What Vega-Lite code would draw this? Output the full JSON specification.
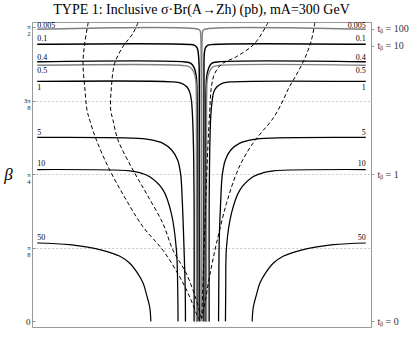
{
  "$schema": "https://vega.github.io/schema/vega-lite/v6.json",
  "width": 339,
  "height": 305,
  "autosize": "none",
  "padding": {"left": 32, "top": 22, "right": 44, "bottom": 32},
  "background": "white",
  "config": {"view": {"stroke": "#999", "strokeWidth": 1}, "font": "Liberation Serif"},
  "title": {"text": "TYPE 1: Inclusive σ·Br(A→Zh) (pb), mA=300 GeV", "font": "Liberation Serif", "fontSize": 14, "fontWeight": "normal", "color": "black", "anchor": "middle", "offset": 5},
  "datasets": {
    "contours": [
      {"level": "0.005", "side": "L", "i": 0, "x": -0.6, "beta": 1.558},
      {"level": "0.005", "side": "L", "i": 1, "x": -0.01, "beta": 1.558},
      {"level": "0.005", "side": "L", "i": 2, "x": -0.0046, "beta": 1.549},
      {"level": "0.005", "side": "L", "i": 3, "x": -0.0027, "beta": 1.528},
      {"level": "0.005", "side": "L", "i": 4, "x": -0.0025, "beta": 0},
      {"level": "0.005", "side": "R", "i": 0, "x": 0.6, "beta": 1.558},
      {"level": "0.005", "side": "R", "i": 1, "x": 0.01, "beta": 1.558},
      {"level": "0.005", "side": "R", "i": 2, "x": 0.0046, "beta": 1.549},
      {"level": "0.005", "side": "R", "i": 3, "x": 0.0027, "beta": 1.528},
      {"level": "0.005", "side": "R", "i": 4, "x": 0.0025, "beta": 0},

      {"level": "0.1", "side": "L", "i": 0, "x": -0.6, "beta": 1.478},
      {"level": "0.1", "side": "L", "i": 1, "x": -0.043, "beta": 1.477},
      {"level": "0.1", "side": "L", "i": 2, "x": -0.025, "beta": 1.472},
      {"level": "0.1", "side": "L", "i": 3, "x": -0.0155, "beta": 1.458},
      {"level": "0.1", "side": "L", "i": 4, "x": -0.0119, "beta": 1.432},
      {"level": "0.1", "side": "L", "i": 5, "x": -0.0088, "beta": 1.368},
      {"level": "0.1", "side": "L", "i": 6, "x": -0.0085, "beta": 0.9},
      {"level": "0.1", "side": "L", "i": 7, "x": -0.0085, "beta": 0},
      {"level": "0.1", "side": "R", "i": 0, "x": 0.6, "beta": 1.478},
      {"level": "0.1", "side": "R", "i": 1, "x": 0.04, "beta": 1.477},
      {"level": "0.1", "side": "R", "i": 2, "x": 0.022, "beta": 1.472},
      {"level": "0.1", "side": "R", "i": 3, "x": 0.014, "beta": 1.458},
      {"level": "0.1", "side": "R", "i": 4, "x": 0.0105, "beta": 1.432},
      {"level": "0.1", "side": "R", "i": 5, "x": 0.009, "beta": 1.368},
      {"level": "0.1", "side": "R", "i": 6, "x": 0.0088, "beta": 0.9},
      {"level": "0.1", "side": "R", "i": 7, "x": 0.0088, "beta": 0},

      {"level": "0.4", "side": "L", "i": 0, "x": -0.6, "beta": 1.385},
      {"level": "0.4", "side": "L", "i": 1, "x": -0.061, "beta": 1.384},
      {"level": "0.4", "side": "L", "i": 2, "x": -0.039, "beta": 1.376},
      {"level": "0.4", "side": "L", "i": 3, "x": -0.0265, "beta": 1.352},
      {"level": "0.4", "side": "L", "i": 4, "x": -0.0192, "beta": 1.309},
      {"level": "0.4", "side": "L", "i": 5, "x": -0.0165, "beta": 1.234},
      {"level": "0.4", "side": "L", "i": 6, "x": -0.016, "beta": 0.9},
      {"level": "0.4", "side": "L", "i": 7, "x": -0.0165, "beta": 0},
      {"level": "0.4", "side": "R", "i": 0, "x": 0.6, "beta": 1.385},
      {"level": "0.4", "side": "R", "i": 1, "x": 0.059, "beta": 1.384},
      {"level": "0.4", "side": "R", "i": 2, "x": 0.037, "beta": 1.376},
      {"level": "0.4", "side": "R", "i": 3, "x": 0.0265, "beta": 1.352},
      {"level": "0.4", "side": "R", "i": 4, "x": 0.0192, "beta": 1.309},
      {"level": "0.4", "side": "R", "i": 5, "x": 0.0165, "beta": 1.234},
      {"level": "0.4", "side": "R", "i": 6, "x": 0.016, "beta": 0.9},
      {"level": "0.4", "side": "R", "i": 7, "x": 0.0165, "beta": 0},

      {"level": "0.5", "side": "L", "i": 0, "x": -0.6, "beta": 1.366},
      {"level": "0.5", "side": "L", "i": 1, "x": -0.0685, "beta": 1.365},
      {"level": "0.5", "side": "L", "i": 2, "x": -0.043, "beta": 1.357},
      {"level": "0.5", "side": "L", "i": 3, "x": -0.0283, "beta": 1.33},
      {"level": "0.5", "side": "L", "i": 4, "x": -0.021, "beta": 1.287},
      {"level": "0.5", "side": "L", "i": 5, "x": -0.019, "beta": 1.207},
      {"level": "0.5", "side": "L", "i": 6, "x": -0.0185, "beta": 0.9},
      {"level": "0.5", "side": "L", "i": 7, "x": -0.0185, "beta": 0},
      {"level": "0.5", "side": "R", "i": 0, "x": 0.6, "beta": 1.366},
      {"level": "0.5", "side": "R", "i": 1, "x": 0.063, "beta": 1.365},
      {"level": "0.5", "side": "R", "i": 2, "x": 0.041, "beta": 1.357},
      {"level": "0.5", "side": "R", "i": 3, "x": 0.0283, "beta": 1.33},
      {"level": "0.5", "side": "R", "i": 4, "x": 0.021, "beta": 1.287},
      {"level": "0.5", "side": "R", "i": 5, "x": 0.019, "beta": 1.207},
      {"level": "0.5", "side": "R", "i": 6, "x": 0.0185, "beta": 0.9},
      {"level": "0.5", "side": "R", "i": 7, "x": 0.0185, "beta": 0},

      {"level": "1", "side": "L", "i": 0, "x": -0.6, "beta": 1.28},
      {"level": "1", "side": "L", "i": 1, "x": -0.11, "beta": 1.278},
      {"level": "1", "side": "L", "i": 2, "x": -0.075, "beta": 1.271},
      {"level": "1", "side": "L", "i": 3, "x": -0.053, "beta": 1.25},
      {"level": "1", "side": "L", "i": 4, "x": -0.043, "beta": 1.223},
      {"level": "1", "side": "L", "i": 5, "x": -0.037, "beta": 1.181},
      {"level": "1", "side": "L", "i": 6, "x": -0.033, "beta": 1.1},
      {"level": "1", "side": "L", "i": 7, "x": -0.029, "beta": 0.913},
      {"level": "1", "side": "L", "i": 8, "x": -0.027, "beta": 0.646},
      {"level": "1", "side": "L", "i": 9, "x": -0.027, "beta": 0},
      {"level": "1", "side": "R", "i": 0, "x": 0.6, "beta": 1.28},
      {"level": "1", "side": "R", "i": 1, "x": 0.114, "beta": 1.278},
      {"level": "1", "side": "R", "i": 2, "x": 0.0776, "beta": 1.271},
      {"level": "1", "side": "R", "i": 3, "x": 0.0557, "beta": 1.25},
      {"level": "1", "side": "R", "i": 4, "x": 0.0447, "beta": 1.223},
      {"level": "1", "side": "R", "i": 5, "x": 0.0393, "beta": 1.181},
      {"level": "1", "side": "R", "i": 6, "x": 0.034, "beta": 1.1},
      {"level": "1", "side": "R", "i": 7, "x": 0.03, "beta": 0.913},
      {"level": "1", "side": "R", "i": 8, "x": 0.028, "beta": 0.646},
      {"level": "1", "side": "R", "i": 9, "x": 0.028, "beta": 0},

      {"level": "5", "side": "L", "i": 0, "x": -0.6, "beta": 0.981},
      {"level": "5", "side": "L", "i": 1, "x": -0.262, "beta": 0.978},
      {"level": "5", "side": "L", "i": 2, "x": -0.189, "beta": 0.97},
      {"level": "5", "side": "L", "i": 3, "x": -0.142, "beta": 0.951},
      {"level": "5", "side": "L", "i": 4, "x": -0.109, "beta": 0.914},
      {"level": "5", "side": "L", "i": 5, "x": -0.0868, "beta": 0.86},
      {"level": "5", "side": "L", "i": 6, "x": -0.0758, "beta": 0.78},
      {"level": "5", "side": "L", "i": 7, "x": -0.0703, "beta": 0.646},
      {"level": "5", "side": "L", "i": 8, "x": -0.0648, "beta": 0.433},
      {"level": "5", "side": "L", "i": 9, "x": -0.0594, "beta": 0.166},
      {"level": "5", "side": "L", "i": 10, "x": -0.0586, "beta": 0},
      {"level": "5", "side": "R", "i": 0, "x": 0.6, "beta": 0.981},
      {"level": "5", "side": "R", "i": 1, "x": 0.26, "beta": 0.978},
      {"level": "5", "side": "R", "i": 2, "x": 0.187, "beta": 0.97},
      {"level": "5", "side": "R", "i": 3, "x": 0.14, "beta": 0.951},
      {"level": "5", "side": "R", "i": 4, "x": 0.107, "beta": 0.914},
      {"level": "5", "side": "R", "i": 5, "x": 0.0868, "beta": 0.86},
      {"level": "5", "side": "R", "i": 6, "x": 0.0758, "beta": 0.78},
      {"level": "5", "side": "R", "i": 7, "x": 0.0703, "beta": 0.646},
      {"level": "5", "side": "R", "i": 8, "x": 0.0648, "beta": 0.433},
      {"level": "5", "side": "R", "i": 9, "x": 0.063, "beta": 0.166},
      {"level": "5", "side": "R", "i": 10, "x": 0.0623, "beta": 0},

      {"level": "10", "side": "L", "i": 0, "x": -0.6, "beta": 0.81},
      {"level": "10", "side": "L", "i": 1, "x": -0.262, "beta": 0.803},
      {"level": "10", "side": "L", "i": 2, "x": -0.226, "beta": 0.793},
      {"level": "10", "side": "L", "i": 3, "x": -0.189, "beta": 0.771},
      {"level": "10", "side": "L", "i": 4, "x": -0.14, "beta": 0.7},
      {"level": "10", "side": "L", "i": 5, "x": -0.11, "beta": 0.575},
      {"level": "10", "side": "L", "i": 6, "x": -0.0915, "beta": 0.379},
      {"level": "10", "side": "L", "i": 7, "x": -0.0868, "beta": 0.166},
      {"level": "10", "side": "L", "i": 8, "x": -0.0857, "beta": 0},
      {"level": "10", "side": "R", "i": 0, "x": 0.6, "beta": 0.81},
      {"level": "10", "side": "R", "i": 1, "x": 0.262, "beta": 0.803},
      {"level": "10", "side": "R", "i": 2, "x": 0.226, "beta": 0.793},
      {"level": "10", "side": "R", "i": 3, "x": 0.188, "beta": 0.771},
      {"level": "10", "side": "R", "i": 4, "x": 0.14, "beta": 0.7},
      {"level": "10", "side": "R", "i": 5, "x": 0.11, "beta": 0.58},
      {"level": "10", "side": "R", "i": 6, "x": 0.0915, "beta": 0.4},
      {"level": "10", "side": "R", "i": 7, "x": 0.0885, "beta": 0.166},
      {"level": "10", "side": "R", "i": 8, "x": 0.0875, "beta": 0},

      {"level": "50", "side": "L", "i": 0, "x": -0.6, "beta": 0.418},
      {"level": "50", "side": "L", "i": 1, "x": -0.481, "beta": 0.409},
      {"level": "50", "side": "L", "i": 2, "x": -0.361, "beta": 0.379},
      {"level": "50", "side": "L", "i": 3, "x": -0.298, "beta": 0.347},
      {"level": "50", "side": "L", "i": 4, "x": -0.262, "beta": 0.31},
      {"level": "50", "side": "L", "i": 5, "x": -0.233, "beta": 0.256},
      {"level": "50", "side": "L", "i": 6, "x": -0.213, "beta": 0.203},
      {"level": "50", "side": "L", "i": 7, "x": -0.2, "beta": 0.139},
      {"level": "50", "side": "L", "i": 8, "x": -0.189, "beta": 0.075},
      {"level": "50", "side": "L", "i": 9, "x": -0.185, "beta": 0},
      {"level": "50", "side": "R", "i": 0, "x": 0.6, "beta": 0.418},
      {"level": "50", "side": "R", "i": 1, "x": 0.481, "beta": 0.409},
      {"level": "50", "side": "R", "i": 2, "x": 0.361, "beta": 0.379},
      {"level": "50", "side": "R", "i": 3, "x": 0.298, "beta": 0.347},
      {"level": "50", "side": "R", "i": 4, "x": 0.262, "beta": 0.31},
      {"level": "50", "side": "R", "i": 5, "x": 0.233, "beta": 0.256},
      {"level": "50", "side": "R", "i": 6, "x": 0.213, "beta": 0.203},
      {"level": "50", "side": "R", "i": 7, "x": 0.2, "beta": 0.139},
      {"level": "50", "side": "R", "i": 8, "x": 0.189, "beta": 0.075},
      {"level": "50", "side": "R", "i": 9, "x": 0.185, "beta": 0}
    ],
    "dashed": [
      {"curve": "A", "i": 0, "x": -0.4137, "beta": 1.594},
      {"curve": "A", "i": 1, "x": -0.4265, "beta": 1.483},
      {"curve": "A", "i": 2, "x": -0.4327, "beta": 1.377},
      {"curve": "A", "i": 3, "x": -0.4265, "beta": 1.252},
      {"curve": "A", "i": 4, "x": -0.4181, "beta": 1.127},
      {"curve": "A", "i": 5, "x": -0.4082, "beta": 1.073},
      {"curve": "A", "i": 6, "x": -0.3837, "beta": 0.967},
      {"curve": "A", "i": 7, "x": -0.3352, "beta": 0.807},
      {"curve": "A", "i": 8, "x": -0.2742, "beta": 0.646},
      {"curve": "A", "i": 9, "x": -0.2135, "beta": 0.504},
      {"curve": "A", "i": 10, "x": -0.1405, "beta": 0.379},
      {"curve": "A", "i": 11, "x": -0.0795, "beta": 0.237},
      {"curve": "A", "i": 12, "x": -0.0429, "beta": 0.13},
      {"curve": "A", "i": 13, "x": -0.0184, "beta": 0.041},
      {"curve": "A", "i": 14, "x": -0.0064, "beta": 0.005},

      {"curve": "B", "i": 0, "x": -0.2318, "beta": 1.594},
      {"curve": "B", "i": 1, "x": -0.25, "beta": 1.537},
      {"curve": "B", "i": 2, "x": -0.2866, "beta": 1.466},
      {"curve": "B", "i": 3, "x": -0.3169, "beta": 1.377},
      {"curve": "B", "i": 4, "x": -0.3289, "beta": 1.252},
      {"curve": "B", "i": 5, "x": -0.3315, "beta": 1.127},
      {"curve": "B", "i": 6, "x": -0.3231, "beta": 1.073},
      {"curve": "B", "i": 7, "x": -0.3048, "beta": 0.967},
      {"curve": "B", "i": 8, "x": -0.25, "beta": 0.807},
      {"curve": "B", "i": 9, "x": -0.2011, "beta": 0.682},
      {"curve": "B", "i": 10, "x": -0.1405, "beta": 0.521},
      {"curve": "B", "i": 11, "x": -0.1039, "beta": 0.379},
      {"curve": "B", "i": 12, "x": -0.055, "beta": 0.254},
      {"curve": "B", "i": 13, "x": -0.0184, "beta": 0.112},
      {"curve": "B", "i": 14, "x": -0.0002, "beta": 0.017},

      {"curve": "C", "i": 0, "x": 0.2431, "beta": 1.594},
      {"curve": "C", "i": 1, "x": 0.1945, "beta": 1.483},
      {"curve": "C", "i": 2, "x": 0.1277, "beta": 1.412},
      {"curve": "C", "i": 3, "x": 0.074, "beta": 1.373},
      {"curve": "C", "i": 4, "x": 0.0484, "beta": 1.323},
      {"curve": "C", "i": 5, "x": 0.0363, "beta": 1.252},
      {"curve": "C", "i": 6, "x": 0.0301, "beta": 1.127},
      {"curve": "C", "i": 7, "x": 0.0228, "beta": 0.913},
      {"curve": "C", "i": 8, "x": 0.0155, "beta": 0.646},
      {"curve": "C", "i": 9, "x": 0.0082, "beta": 0.326},
      {"curve": "C", "i": 10, "x": 0.0009, "beta": 0.016},

      {"curve": "D", "i": 0, "x": 0.4137, "beta": 1.594},
      {"curve": "D", "i": 1, "x": 0.4016, "beta": 1.501},
      {"curve": "D", "i": 2, "x": 0.3772, "beta": 1.403},
      {"curve": "D", "i": 3, "x": 0.3479, "beta": 1.319},
      {"curve": "D", "i": 4, "x": 0.3187, "beta": 1.245},
      {"curve": "D", "i": 5, "x": 0.2895, "beta": 1.154},
      {"curve": "D", "i": 6, "x": 0.2566, "beta": 1.073},
      {"curve": "D", "i": 7, "x": 0.2201, "beta": 1.01},
      {"curve": "D", "i": 8, "x": 0.1872, "beta": 0.949},
      {"curve": "D", "i": 9, "x": 0.1543, "beta": 0.871},
      {"curve": "D", "i": 10, "x": 0.1276, "beta": 0.789},
      {"curve": "D", "i": 11, "x": 0.0911, "beta": 0.629},
      {"curve": "D", "i": 12, "x": 0.0546, "beta": 0.415},
      {"curve": "D", "i": 13, "x": 0.0301, "beta": 0.246},
      {"curve": "D", "i": 14, "x": 0.0119, "beta": 0.096},
      {"curve": "D", "i": 15, "x": -0.0002, "beta": 0.016}
    ],
    "labels": [
      {"side": "L", "x": -0.6, "beta": 1.577, "text": "0.005"},
      {"side": "L", "x": -0.6, "beta": 1.505, "text": "0.1"},
      {"side": "L", "x": -0.6, "beta": 1.406, "text": "0.4"},
      {"side": "L", "x": -0.6, "beta": 1.337, "text": "0.5"},
      {"side": "L", "x": -0.6, "beta": 1.247, "text": "1"},
      {"side": "L", "x": -0.6, "beta": 1.006, "text": "5"},
      {"side": "L", "x": -0.6, "beta": 0.837, "text": "10"},
      {"side": "L", "x": -0.6, "beta": 0.447, "text": "50"},
      {"side": "R", "x": 0.6, "beta": 1.577, "text": "0.005"},
      {"side": "R", "x": 0.6, "beta": 1.505, "text": "0.1"},
      {"side": "R", "x": 0.6, "beta": 1.406, "text": "0.4"},
      {"side": "R", "x": 0.6, "beta": 1.337, "text": "0.5"},
      {"side": "R", "x": 0.6, "beta": 1.247, "text": "1"},
      {"side": "R", "x": 0.6, "beta": 1.006, "text": "5"},
      {"side": "R", "x": 0.6, "beta": 0.837, "text": "10"},
      {"side": "R", "x": 0.6, "beta": 0.447, "text": "50"}
    ]
  },
  "resolve": {"axis": {"y": "independent"}},
  "layer": [
    {
      "data": {"name": "contours"},
      "mark": {"type": "line", "interpolate": "catmull-rom", "clip": true},
      "encoding": {
        "x": {
          "field": "x", "type": "quantitative",
          "scale": {"domain": [-0.619, 0.619], "nice": false, "zero": false},
          "axis": {
            "values": [-0.6, -0.55, -0.5, -0.45, -0.4, -0.35, -0.3, -0.25, -0.2, -0.15, -0.1, -0.05, 0, 0.05, 0.1, 0.15, 0.2, 0.25, 0.3, 0.35, 0.4, 0.45, 0.5, 0.55, 0.6],
            "labelExpr": "abs(datum.value*5 - round(datum.value*5)) < 0.01 ? replace(format(datum.value, '.1f'), '-', '−') : ''",
            "tickSize": -3, "tickColor": "#777", "tickWidth": 0.8,
            "labelPadding": 5, "labelOverlap": false, "labelFlush": false,
            "labelFont": "Liberation Serif", "labelFontSize": 10, "labelColor": "#222",
            "domain": false,
            "grid": true, "gridColor": "#aaa", "gridDash": [1.5, 2.5], "gridWidth": 0.8,
            "gridOpacity": {"condition": {"test": "abs(datum.value) < 0.45 && abs(datum.value*5 - round(datum.value*5)) < 0.01", "value": 1}, "value": 0},
            "title": "cos(β−α)", "titleFont": "Liberation Serif", "titleFontSize": 14, "titleFontWeight": "normal", "titleColor": "black", "titlePadding": 2
          }
        },
        "y": {
          "field": "beta", "type": "quantitative",
          "scale": {"domain": [-0.03, 1.597], "nice": false, "zero": false},
          "axis": {
            "orient": "left",
            "values": [0, 0.3927, 0.7854, 1.1781, 1.5708],
            "labelExpr": "datum.value < 0.1 ? '0' : datum.value < 0.5 ? ['π','8'] : datum.value < 0.9 ? ['π','4'] : datum.value < 1.3 ? ['3π','8'] : ['π','2']",
            "labelFontSize": {"condition": {"test": "datum.value < 0.1", "value": 9}, "value": 6.5},
            "labelLineHeight": 7,
            "labelFont": "Liberation Serif", "labelColor": "#222",
            "tickSize": -3, "tickColor": "#777", "tickWidth": 0.8,
            "labelPadding": 5, "labelOverlap": false, "labelFlush": false,
            "domain": false,
            "grid": true, "gridColor": "#aaa", "gridDash": [1.5, 2.5], "gridWidth": 0.8,
            "gridOpacity": {"condition": {"test": "datum.value > 0.2 && datum.value < 1.4", "value": 1}, "value": 0},
            "title": "β", "titleAngle": 0, "titleFont": "Liberation Serif", "titleFontStyle": "italic", "titleFontSize": 17, "titleFontWeight": "normal", "titleColor": "black",
            "titleX": -24, "titleY": 152, "titleAlign": "center", "titleBaseline": "middle"
          }
        },
        "detail": {"field": "side", "type": "nominal"},
        "order": {"field": "i", "type": "quantitative"},
        "color": {"field": "level", "type": "nominal", "legend": null,
          "scale": {"domain": ["0.005", "0.1", "0.4", "0.5", "1", "5", "10", "50"], "range": ["#808080", "black", "black", "#808080", "black", "black", "black", "black"]}},
        "strokeWidth": {"field": "level", "type": "ordinal", "legend": null,
          "scale": {"domain": ["0.005", "0.1", "0.4", "0.5", "1", "5", "10", "50"], "range": [1.5, 1.2, 1.9, 1.8, 1.2, 1.2, 1.2, 1.2]}}
      }
    },
    {
      "data": {"name": "dashed"},
      "mark": {"type": "line", "interpolate": "catmull-rom", "clip": true, "color": "black", "strokeWidth": 1, "strokeDash": [4, 2.5]},
      "encoding": {
        "x": {"field": "x", "type": "quantitative", "scale": {"domain": [-0.619, 0.619], "nice": false, "zero": false}, "axis": null},
        "y": {"field": "beta", "type": "quantitative", "scale": {"domain": [-0.03, 1.597], "nice": false, "zero": false}, "axis": null},
        "detail": {"field": "curve", "type": "nominal"},
        "order": {"field": "i", "type": "quantitative"}
      }
    },
    {
      "data": {"name": "labels"},
      "transform": [{"filter": "datum.side == 'L'"}],
      "mark": {"type": "text", "align": "left", "baseline": "middle", "font": "Liberation Serif", "fontSize": 8, "color": "black"},
      "encoding": {
        "x": {"field": "x", "type": "quantitative", "scale": {"domain": [-0.619, 0.619], "nice": false, "zero": false}, "axis": null},
        "y": {"field": "beta", "type": "quantitative", "scale": {"domain": [-0.03, 1.597], "nice": false, "zero": false}, "axis": null},
        "text": {"field": "text", "type": "nominal"}
      }
    },
    {
      "data": {"name": "labels"},
      "transform": [{"filter": "datum.side == 'R'"}],
      "mark": {"type": "text", "align": "right", "baseline": "middle", "font": "Liberation Serif", "fontSize": 8, "color": "black"},
      "encoding": {
        "x": {"field": "x", "type": "quantitative", "scale": {"domain": [-0.619, 0.619], "nice": false, "zero": false}, "axis": null},
        "y": {"field": "beta", "type": "quantitative", "scale": {"domain": [-0.03, 1.597], "nice": false, "zero": false},
          "axis": {
            "orient": "right",
            "values": [0, 0.7854, 1.4711, 1.5608],
            "labelExpr": "datum.value < 0.1 ? 'tᵦ = 0' : datum.value < 1 ? 'tᵦ = 1' : datum.value < 1.5 ? 'tᵦ = 10' : 'tᵦ = 100'",
            "labelFont": "Liberation Serif", "labelFontSize": 10, "labelColor": "#333",
            "tickSize": 3, "tickColor": "#888", "tickWidth": 0.8,
            "labelPadding": 3, "labelOverlap": false, "labelFlush": false,
            "domain": false, "grid": false, "title": null
          }
        },
        "text": {"field": "text", "type": "nominal"}
      }
    }
  ]
}
